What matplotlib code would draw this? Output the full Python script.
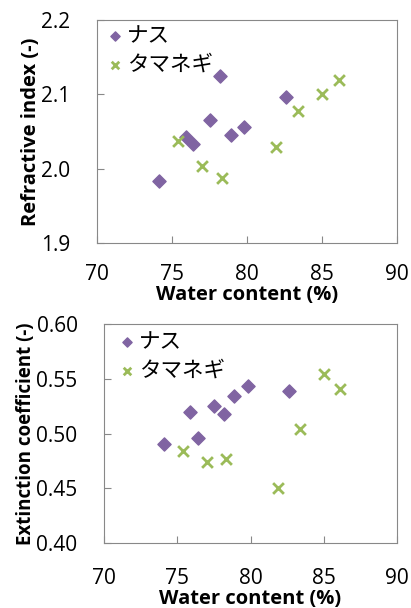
import matplotlib
matplotlib.use("Agg")
import matplotlib.pyplot as plt

plt.rcParams['font.family'] = ['Open Sans', 'Noto Sans CJK JP', 'DejaVu Sans']

# data
nasu_water = [74.1, 75.9, 76.4, 77.5, 78.2, 78.9, 79.8, 82.6]
nasu_n = [1.983, 2.043, 2.033, 2.065, 2.125, 2.046, 2.056, 2.097]
nasu_k = [0.490, 0.520, 0.496, 0.525, 0.518, 0.534, 0.543, 0.539]

tama_water = [75.4, 77.0, 78.3, 81.9, 83.4, 85.0, 86.1]
tama_n = [2.038, 2.004, 1.987, 2.029, 2.078, 2.101, 2.120]
tama_k = [0.484, 0.474, 0.477, 0.450, 0.504, 0.554, 0.541]

labels = ['ナス', 'タマネギ']
purple = '#8064A2'
green = '#9BBB59'

fig = plt.figure(figsize=(4.11, 6.08), dpi=100)
ax1 = fig.add_axes([0.236, 0.600, 0.730, 0.367])
ax2 = fig.add_axes([0.253, 0.107, 0.713, 0.360])

def style(ax, ylabel, ysize, yticks, fmt, xpad, anchor):
    ax.set_xlim(70, 90)
    ax.set_xticks([70, 75, 80, 85, 90])
    ax.set_ylim(yticks[0], yticks[-1])
    ax.set_yticks(yticks)
    ax.set_yticklabels([fmt % v for v in yticks])
    ax.tick_params(direction='in', length=5, color='#888888', labelsize=15)
    ax.tick_params(axis='y', pad=19)
    ax.tick_params(axis='x', pad=xpad)
    for s in ax.spines.values():
        s.set_color('#888888')
    ax.set_xlabel('Water content (%)', fontsize=14.5, fontweight='bold', labelpad=0)
    ax.set_ylabel(ylabel, fontsize=ysize, fontweight='bold', labelpad=0)
    ax.legend(loc='upper left', bbox_to_anchor=anchor, frameon=False,
              handlelength=0.6, markerscale=0.7, handletextpad=0.25,
              borderaxespad=0, borderpad=0, labelspacing=0.3,
              prop={'family': 'Noto Sans CJK JP', 'size': 15.5})

ax1.scatter(nasu_water, nasu_n, marker='D', s=45, color=purple, label=labels[0], zorder=3)
ax1.scatter(tama_water, tama_n, marker='x', s=60, color=green, linewidths=2, label=labels[1], zorder=3)
style(ax1, 'Refractive index (-)', 14.5, [1.9, 2.0, 2.1, 2.2], '%.1f', 15, (0.038, 0.978))

ax2.scatter(nasu_water, nasu_k, marker='D', s=45, color=purple, label=labels[0], zorder=3)
ax2.scatter(tama_water, tama_k, marker='x', s=60, color=green, linewidths=2, label=labels[1], zorder=3)
style(ax2, 'Extinction coefficient (-)', 13.5, [0.40, 0.45, 0.50, 0.55, 0.60], '%.2f', 18, (0.056, 0.968))

fig.savefig('out.png', dpi=100)
